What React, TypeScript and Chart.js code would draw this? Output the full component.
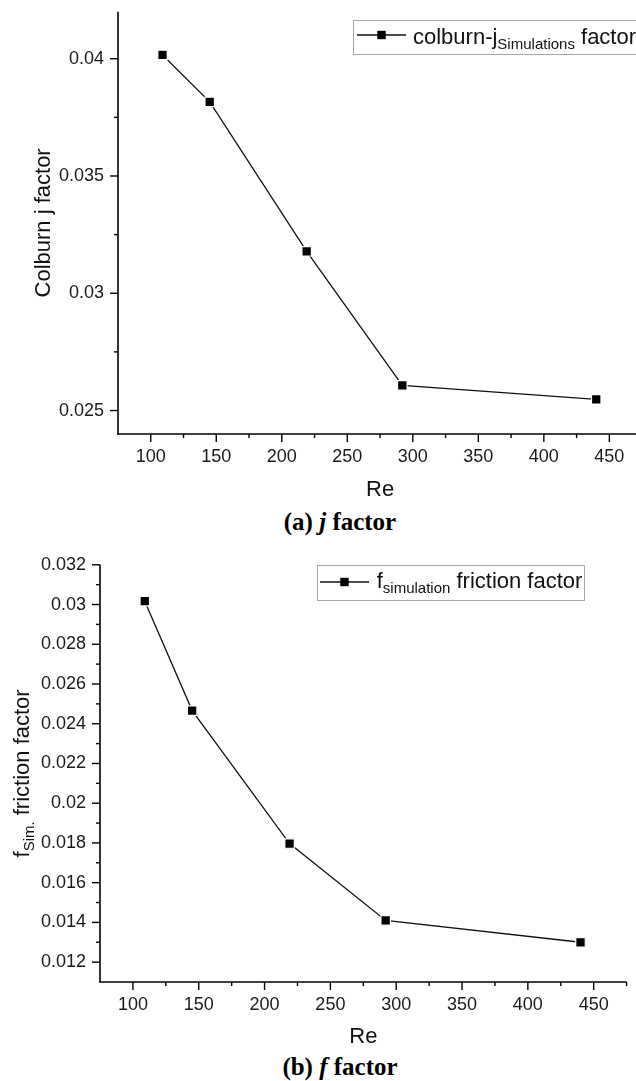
import React, { useEffect, useRef } from "react";
import { Chart, registerables } from "chart.js";

Chart.register(...registerables);

const FONT = "'Liberation Sans', Arial, Helvetica, sans-serif";
Chart.defaults.font.family = FONT;

// ---------- data ----------
const RE = [109, 145, 219, 292, 440];
const J_FACTOR = [0.04016, 0.03816, 0.03179, 0.02607, 0.02548];
const F_FACTOR = [0.03017, 0.02466, 0.01797, 0.0141, 0.013];

const X_TICKS = [100, 150, 200, 250, 300, 350, 400, 450];
const X_TICK_LABELS = ["100", "150", "200", "250", "300", "350", "400", "450"];
const X_MINOR = [125, 175, 225, 275, 325, 375, 425, 475];

const J_TICKS = [0.025, 0.03, 0.035, 0.04];
const J_TICK_LABELS = ["0.025", "0.03", "0.035", "0.04"];
const J_MINOR = [0.0275, 0.0325, 0.0375];

const F_TICKS = [0.012, 0.014, 0.016, 0.018, 0.02, 0.022, 0.024, 0.026, 0.028, 0.03, 0.032];
const F_TICK_LABELS = ["0.012", "0.014", "0.016", "0.018", "0.02", "0.022", "0.024", "0.026", "0.028", "0.03", "0.032"];
const F_MINOR = [0.013, 0.015, 0.017, 0.019, 0.021, 0.023, 0.025, 0.027, 0.029, 0.031];

type Seg = { t: string; sub?: boolean };

const J_LEGEND: Seg[] = [{ t: "colburn-j" }, { t: "Simulations", sub: true }, { t: " factor" }];
const F_LEGEND: Seg[] = [{ t: "f" }, { t: "simulation", sub: true }, { t: " friction factor" }];
const J_YTITLE: Seg[] = [{ t: "Colburn j factor" }];
const F_YTITLE: Seg[] = [{ t: "f" }, { t: "Sim.", sub: true }, { t: " friction factor" }];
const X_TITLE: Seg[] = [{ t: "Re" }];

interface Spec {
  top: number;
  width: number;
  height: number;
  area: { left: number; right: number; top: number; bottom: number };
  yMin: number;
  yMax: number;
  values: number[];
  yTicks: number[];
  yTickLabels: string[];
  yMinor: number[];
  yTitle: Seg[];
  yTitleX: number;
  xTitleY: number;
  legend: { x: number; y: number; w: number; h: number; l1: number; l2: number; symY: number; textX: number; base: number; segs: Seg[] };
}

function drawRich(ctx: CanvasRenderingContext2D, segs: Seg[], x: number, y: number, align: "left" | "center") {
  const main = `22px ${FONT}`;
  const sub = `15px ${FONT}`;
  const widths = segs.map((s) => {
    ctx.font = s.sub ? sub : main;
    return ctx.measureText(s.t).width;
  });
  const total = widths.reduce((a, b) => a + b, 0);
  let cx = align === "center" ? x - total / 2 : x;
  ctx.textAlign = "left";
  ctx.textBaseline = "alphabetic";
  segs.forEach((s, i) => {
    ctx.font = s.sub ? sub : main;
    ctx.fillText(s.t, cx, y + (s.sub ? 5 : 0));
    cx += widths[i];
  });
}

const overlay = {
  id: "overlay",
  afterDraw(chart: any, _args: any, opts: any) {
    const spec: Spec = opts.spec;
    const ctx: CanvasRenderingContext2D = chart.ctx;
    const xs = chart.scales.x;
    const ys = chart.scales.y;
    const { left, right, top, bottom } = chart.chartArea;
    ctx.save();
    ctx.strokeStyle = "#000";
    ctx.lineWidth = 1.6;
    const seg = (x1: number, y1: number, x2: number, y2: number) => {
      ctx.beginPath();
      ctx.moveTo(x1, y1);
      ctx.lineTo(x2, y2);
      ctx.stroke();
    };
    // axes
    seg(left, top, left, bottom + 0.8);
    seg(left - 0.8, bottom, right, bottom);
    ctx.lineWidth = 1.4;
    X_TICKS.forEach((v) => {
      const p = xs.getPixelForValue(v);
      seg(p, bottom, p, bottom + 8);
    });
    X_MINOR.forEach((v) => {
      const p = xs.getPixelForValue(v);
      seg(p, bottom, p, bottom + 4);
    });
    spec.yTicks.forEach((v) => {
      const p = ys.getPixelForValue(v);
      seg(left - 8, p, left, p);
    });
    spec.yMinor.forEach((v) => {
      const p = ys.getPixelForValue(v);
      seg(left - 4, p, left, p);
    });
    // titles
    ctx.fillStyle = "#111";
    drawRich(ctx, X_TITLE, (left + right) / 2, spec.xTitleY, "center");
    ctx.save();
    ctx.translate(spec.yTitleX, (top + bottom) / 2);
    ctx.rotate(-Math.PI / 2);
    drawRich(ctx, spec.yTitle, 0, 0, "center");
    ctx.restore();
    // legend
    const L = spec.legend;
    ctx.fillStyle = "#fff";
    ctx.fillRect(L.x, L.y, L.w, L.h);
    ctx.strokeStyle = "#a6a6a6";
    ctx.lineWidth = 1;
    ctx.strokeRect(L.x, L.y, L.w, L.h);
    ctx.strokeStyle = "#111";
    ctx.lineWidth = 1.3;
    seg(L.l1, L.symY, L.l2, L.symY);
    ctx.fillStyle = "#000";
    const mid = (L.l1 + L.l2) / 2;
    ctx.fillRect(mid - 4.2, L.symY - 4.2, 8.4, 8.4);
    ctx.fillStyle = "#111";
    drawRich(ctx, L.segs, L.textX, L.base, "left");
    ctx.restore();
  },
};

function Panel({ spec }: { spec: Spec }) {
  const ref = useRef<HTMLCanvasElement | null>(null);
  useEffect(() => {
    const canvas = ref.current;
    if (!canvas) return;
    const { area, width, height } = spec;
    const chart = new Chart(canvas, {
      type: "line",
      data: {
        datasets: [
          {
            data: RE.map((x, i) => ({ x, y: spec.values[i] })),
            borderColor: "#111",
            borderWidth: 1.3,
            pointStyle: "rect",
            pointRadius: 6.7,
            pointBackgroundColor: "#000",
            pointBorderColor: "#fff",
            pointBorderWidth: 1.2,
            tension: 0,
            fill: false,
          },
        ],
      },
      options: {
        animation: false,
        responsive: false,
        devicePixelRatio: 1,
        layout: { padding: { left: 0, top: area.top, right: width - area.right, bottom: 0 } },
        plugins: {
          legend: { display: false },
          tooltip: { enabled: false },
          overlay: { spec },
        } as any,
        scales: {
          x: {
            type: "linear",
            min: 75,
            max: 475,
            grid: { display: false, drawTicks: false, tickLength: 0 },
            border: { display: false },
            afterBuildTicks: (s: any) => {
              s.ticks = X_TICKS.map((v) => ({ value: v }));
            },
            afterFit: (s: any) => {
              s.height = height - area.bottom;
            },
            ticks: {
              autoSkip: false,
              maxRotation: 0,
              padding: 12,
              color: "#1a1a1a",
              font: { size: 18, family: FONT },
              callback: (_v: any, i: number) => X_TICK_LABELS[i],
            },
          },
          y: {
            type: "linear",
            min: spec.yMin,
            max: spec.yMax,
            grid: { display: false, drawTicks: false, tickLength: 0 },
            border: { display: false },
            afterBuildTicks: (s: any) => {
              s.ticks = spec.yTicks.map((v) => ({ value: v }));
            },
            afterFit: (s: any) => {
              s.width = area.left;
            },
            ticks: {
              autoSkip: false,
              padding: 14,
              color: "#1a1a1a",
              font: { size: 18, family: FONT },
              callback: (_v: any, i: number) => spec.yTickLabels[i],
            },
          },
        },
      } as any,
      plugins: [overlay as any],
    });
    return () => chart.destroy();
  }, [spec]);
  return (
    <canvas
      ref={ref}
      width={spec.width}
      height={spec.height}
      style={{ position: "absolute", left: 0, top: spec.top, width: spec.width, height: spec.height }}
    />
  );
}

const TOP_A = -13;
const SPEC_A: Spec = {
  top: TOP_A,
  width: 650,
  height: 518,
  area: { left: 118, right: 643.3, top: 9 - TOP_A, bottom: 434 - TOP_A },
  yMin: 0.024,
  yMax: 0.042,
  values: J_FACTOR,
  yTicks: J_TICKS,
  yTickLabels: J_TICK_LABELS,
  yMinor: J_MINOR,
  yTitle: J_YTITLE,
  yTitleX: 50,
  xTitleY: 496 - TOP_A,
  legend: {
    x: 353.5,
    y: 20.5 - TOP_A,
    w: 290,
    h: 34,
    l1: 357,
    l2: 406,
    symY: 35 - TOP_A,
    textX: 413,
    base: 44 - TOP_A,
    segs: J_LEGEND,
  },
};

const TOP_B = 540;
const SPEC_B: Spec = {
  top: TOP_B,
  width: 636,
  height: 510,
  area: { left: 100, right: 626.6, top: 557.3 - TOP_B, bottom: 982 - TOP_B },
  yMin: 0.011,
  yMax: 0.032,
  values: F_FACTOR,
  yTicks: F_TICKS,
  yTickLabels: F_TICK_LABELS,
  yMinor: F_MINOR,
  yTitle: F_YTITLE,
  yTitleX: 28.5,
  xTitleY: 1043 - TOP_B,
  legend: {
    x: 317.5,
    y: 565.5 - TOP_B,
    w: 267,
    h: 35,
    l1: 320,
    l2: 369,
    symY: 582 - TOP_B,
    textX: 376.7,
    base: 588 - TOP_B,
    segs: F_LEGEND,
  },
};

const captionStyle: React.CSSProperties = {
  position: "absolute",
  left: 0,
  width: 680,
  textAlign: "center",
  font: "bold 25px 'Liberation Serif', 'Times New Roman', serif",
  lineHeight: "30px",
  color: "#000",
  whiteSpace: "nowrap",
};

export default function App() {
  return (
    <div
      style={{
        position: "absolute",
        left: 0,
        top: 0,
        width: 636,
        height: 1081,
        overflow: "hidden",
        background: "#fff",
      }}
    >
      <Panel spec={SPEC_A} />
      <div style={{ ...captionStyle, top: 507 }}>
        (a) <i>j</i> factor
      </div>
      <Panel spec={SPEC_B} />
      <div style={{ ...captionStyle, top: 1052 }}>
        (b) <i>f</i> factor
      </div>
    </div>
  );
}
